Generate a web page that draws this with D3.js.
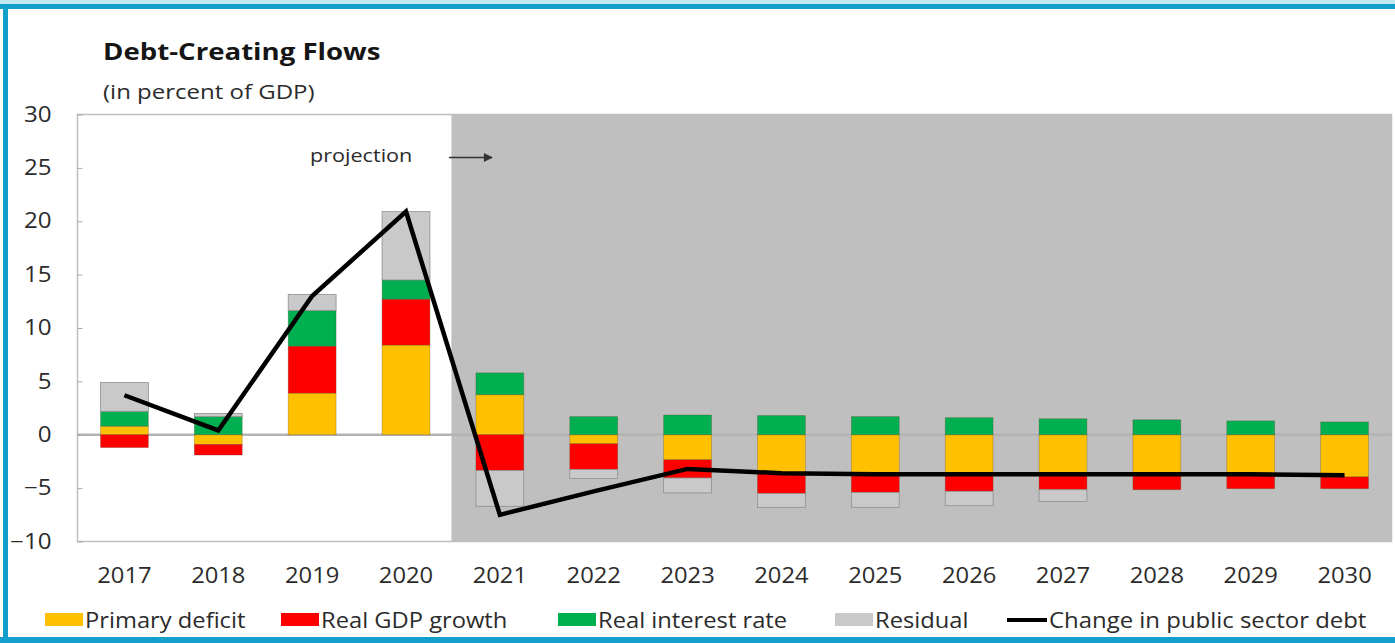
<!DOCTYPE html>
<html>
<head>
<meta charset="utf-8">
<script src="https://cdn.jsdelivr.net/npm/d3@7/dist/d3.min.js"></script>
<style>
  html, body { margin: 0; padding: 0; background: #fff; }
  svg { display: block; }
  text { font-family: "Open Sans", "Noto Sans", sans-serif; fill: #2b2b2b; }
</style>
</head>
<body>
<svg id="chart" width="1395" height="643"></svg>
<script>
// Debt-creating flows, in percent of GDP
const years = ["2017","2018","2019","2020","2021","2022","2023","2024","2025","2026","2027","2028","2029","2030"];
const primaryDeficit = [0.8, -0.9, 3.9, 8.4, 3.75, -0.85, -2.35, -3.55, -3.6, -3.6, -3.7, -3.7, -3.7, -3.95];
const realGdpGrowth  = [-1.2, -1.0, 4.4, 4.3, -3.35, -2.4, -1.7, -1.95, -1.8, -1.7, -1.45, -1.45, -1.35, -1.1];
const realInterest   = [1.4, 1.7, 3.35, 1.8, 2.05, 1.7, 1.85, 1.8, 1.7, 1.6, 1.5, 1.4, 1.3, 1.2];
const residual       = [2.7, 0.3, 1.5, 6.4, -3.35, -0.85, -1.4, -1.3, -1.4, -1.35, -1.1, 0, 0, 0];
const changeInDebt   = [3.7, 0.4, 13.0, 20.9, -7.5, -5.3, -3.2, -3.6, -3.7, -3.7, -3.7, -3.7, -3.7, -3.8];
const yTicks = [30, 25, 20, 15, 10, 5, 0, -5, -10];
const projectionStart = "2021";

const seriesNames = ["Primary deficit", "Real GDP growth", "Real interest rate", "Residual"];
const seriesColors = ["#ffc000", "#ff0000", "#00b050", "#c9c9c9"];

const svg = d3.select("#chart");

// text drawn slightly widened horizontally
function wideText(parent, x, y, str, size, sx, anchor) {
  return parent.append("text")
    .attr("transform", `translate(${x},${y}) scale(${sx},1)`)
    .attr("text-anchor", anchor || "start")
    .style("font-size", size + "px")
    .text(str);
}

// page frame
svg.append("rect").attr("x", 0).attr("y", 0).attr("width", 1395).attr("height", 4).attr("fill", "#c4e8f3");
svg.append("rect").attr("x", 0).attr("y", 4).attr("width", 1395).attr("height", 5).attr("fill", "#129fcb");
svg.append("rect").attr("x", 3).attr("y", 4).attr("width", 5).attr("height", 639).attr("fill", "#129fcb");
svg.append("rect").attr("x", 0).attr("y", 637).attr("width", 1395).attr("height", 6).attr("fill", "#129fcb");

const plot = { left: 77.5, right: 1391.5, top: 114.5, bottom: 541.5 };

const x = d3.scaleBand().domain(years).range([plot.left, plot.right])
  .paddingInner(0.49).paddingOuter(0.245);
const y = d3.scaleLinear().domain([-10, 30]).range([plot.bottom, plot.top]);

// title
wideText(svg, 103, 60, "Debt-Creating Flows", 24, 1.15)
  .style("font-weight", "bold").style("fill", "#151515");
wideText(svg, 103, 99, "(in percent of GDP)", 20, 1.2);

// projection shading
const shadeX = x(projectionStart) - x.step() * x.paddingInner() / 2 - 1.5;
svg.append("rect")
  .attr("x", shadeX).attr("y", plot.top)
  .attr("width", plot.right - shadeX).attr("height", plot.bottom - plot.top)
  .attr("fill", "#bfbfbf");

// plot frame
svg.append("rect")
  .attr("x", plot.left).attr("y", plot.top)
  .attr("width", plot.right - plot.left).attr("height", plot.bottom - plot.top)
  .attr("fill", "none").attr("stroke", "#bdbdbd").attr("stroke-width", 1.5);

// zero line
svg.append("line")
  .attr("x1", plot.left).attr("x2", plot.right)
  .attr("y1", y(0)).attr("y2", y(0))
  .attr("stroke", "#b3b3b3").attr("stroke-width", 2.5);

// y axis
const ySx = 1.15;
const yAxis = d3.axisLeft(y).tickValues(yTicks).tickSize(-5).tickPadding(26).tickFormat(d3.format("d"));
const gy = svg.append("g").attr("transform", `translate(${plot.left},0)`).call(yAxis);
gy.select(".domain").remove();
gy.selectAll(".tick line").attr("stroke", "#aaa");
gy.selectAll(".tick text")
  .attr("font-family", null)
  .style("font-size", "21px").style("fill", "#2b2b2b")
  .attr("x", function () { return +d3.select(this).attr("x") / ySx; })
  .attr("transform", `scale(${ySx},1)`);

// x axis labels
const xSx = 1.08;
const xAxis = d3.axisBottom(x).tickSize(0).tickPadding(0);
const gx = svg.append("g").attr("transform", `translate(0,${plot.bottom + 41})`).call(xAxis);
gx.select(".domain").remove();
gx.selectAll(".tick text")
  .attr("font-family", null)
  .attr("dy", 0).style("font-size", "22px").style("fill", "#2b2b2b")
  .attr("transform", `scale(${xSx},1)`);

// stacked bars
const rows = years.map((yr, i) => ({
  year: yr,
  "Primary deficit": primaryDeficit[i],
  "Real GDP growth": realGdpGrowth[i],
  "Real interest rate": realInterest[i],
  "Residual": residual[i]
}));
const stack = d3.stack().keys(seriesNames).offset(d3.stackOffsetDiverging);
const layers = stack(rows);
const color = d3.scaleOrdinal().domain(seriesNames).range(seriesColors);

svg.append("g").selectAll("g").data(layers).join("g")
  .attr("fill", d => color(d.key))
  .attr("stroke", d => d.key === "Residual" ? "#8f8f8f" : "rgba(90,70,40,0.35)")
  .attr("stroke-width", 0.8)
  .selectAll("rect").data(d => d).join("rect")
  .attr("x", d => x(d.data.year))
  .attr("width", x.bandwidth())
  .attr("y", d => y(Math.max(d[0], d[1])))
  .attr("height", d => Math.abs(y(d[0]) - y(d[1])));

// change in public sector debt
const line = d3.line()
  .x((d, i) => x(years[i]) + x.bandwidth() / 2)
  .y(d => y(d));
svg.append("path").datum(changeInDebt)
  .attr("d", line)
  .attr("fill", "none").attr("stroke", "#000").attr("stroke-width", 4.5)
  .attr("stroke-linejoin", "miter");

// projection marker
svg.append("defs").append("marker")
  .attr("id", "arrow").attr("viewBox", "0 0 10 10").attr("refX", 9).attr("refY", 5)
  .attr("markerWidth", 7).attr("markerHeight", 6).attr("orient", "auto")
  .append("path").attr("d", "M0,0 L10,5 L0,10 z").attr("fill", "#333");
wideText(svg, 310, 162, "projection", 18, 1.2);
svg.append("line").attr("x1", 449).attr("x2", 492).attr("y1", 157.5).attr("y2", 157.5)
  .attr("stroke", "#333").attr("stroke-width", 1.5).attr("marker-end", "url(#arrow)");

// legend
const legendY = 620;
const legendX = [45, 281, 558, 835];
seriesNames.forEach((name, i) => {
  svg.append("rect").attr("x", legendX[i]).attr("y", legendY - 7).attr("width", 38).attr("height", 13)
    .attr("fill", seriesColors[i]);
  wideText(svg, legendX[i] + 40, legendY + 8, name, 21, 1.13);
});
svg.append("line").attr("x1", 1007).attr("x2", 1047).attr("y1", legendY).attr("y2", legendY)
  .attr("stroke", "#000").attr("stroke-width", 4);
wideText(svg, 1049, legendY + 8, "Change in public sector debt", 21, 1.14);
</script>
</body>
</html>
